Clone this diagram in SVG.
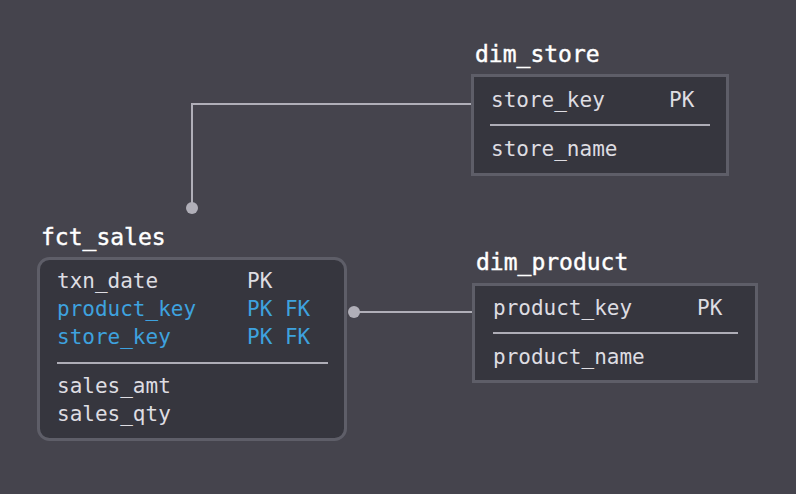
<svg xmlns="http://www.w3.org/2000/svg" width="796" height="494" viewBox="0 0 796 494">
<style>
.title{font-family:"DejaVu Sans Mono","Liberation Mono",monospace;font-size:23px;fill:#ffffff;stroke:#ffffff;stroke-width:0.4}
.row{font-family:"DejaVu Sans Mono","Liberation Mono",monospace;font-size:21px;fill:#dedde2}
.key{fill:#3ea2df}
.box{fill:#36363e;stroke:#5e5e68;stroke-width:3}
.div{stroke:#aeadb6;stroke-width:2}
.conn{fill:none;stroke:#b0afb8;stroke-width:2}
.dot{fill:#b0afb8}
</style>
<rect width="796" height="494" fill="#45444d"/>
<g id="connectors">
<path class="conn" d="M472 104 H192 V207"/>
<circle class="dot" cx="192" cy="208" r="6"/>
<path class="conn" d="M354 312 H472"/>
<circle class="dot" cx="354" cy="312" r="6"/>
</g>
<g id="fct_sales">
<text class="title" x="41" y="245">fct_sales</text>
<rect class="box" x="38.5" y="258.5" width="307" height="181" rx="11"/>
<text class="row" x="57" y="288">txn_date</text>
<text class="row" x="247" y="288">PK</text>
<text class="row key" x="57" y="316">product_key</text>
<text class="row key" x="247" y="316">PK FK</text>
<text class="row key" x="57" y="344">store_key</text>
<text class="row key" x="247" y="344">PK FK</text>
<line class="div" x1="57" y1="363" x2="328" y2="363"/>
<text class="row" x="57" y="393">sales_amt</text>
<text class="row" x="57" y="421">sales_qty</text>
</g>
<g id="dim_store">
<text class="title" x="475" y="62">dim_store</text>
<rect class="box" x="472.5" y="75.5" width="255" height="99"/>
<text class="row" x="491" y="107">store_key</text>
<text class="row" x="669" y="107">PK</text>
<line class="div" x1="490" y1="125" x2="710" y2="125"/>
<text class="row" x="491" y="156">store_name</text>
</g>
<g id="dim_product">
<text class="title" x="476" y="270">dim_product</text>
<rect class="box" x="473.5" y="284.5" width="283" height="97"/>
<text class="row" x="493" y="315">product_key</text>
<text class="row" x="697" y="315">PK</text>
<line class="div" x1="493" y1="333" x2="738" y2="333"/>
<text class="row" x="493" y="364">product_name</text>
</g>
</svg>
